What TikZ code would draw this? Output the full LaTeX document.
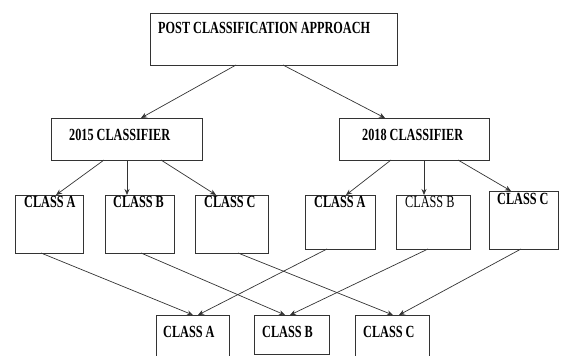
\documentclass[tikz,border=0pt]{standalone}
\usepackage{fontspec}
\setmainfont{Liberation Serif}[FakeStretch=0.72]
\usetikzlibrary{arrows.meta}
\begin{document}
\begin{tikzpicture}[x=1pt,y=-1pt,
  boxst/.style={draw=black!80,line width=0.8pt,inner sep=0pt,outer sep=0pt,anchor=north west},
  lbl/.style={anchor=base west,inner sep=0pt,font=\fontsize{17}{20}\selectfont\bfseries},
  lblr/.style={anchor=base west,inner sep=0pt,font=\fontsize{17}{20}\selectfont},
  arr/.style={draw=black!80,line width=0.7pt,-{Stealth[length=6pt,width=5pt]}}]
\useasboundingbox (0,0) rectangle (563,356);
\clip (0,0) rectangle (563,356);
% boxes
\node[boxst,minimum width=247pt,minimum height=52pt] (top) at (150,13) {};
\node[boxst,minimum width=151pt,minimum height=42pt] (c15) at (51,118) {};
\node[boxst,minimum width=150pt,minimum height=42pt] (c18) at (339,118) {};
\node[boxst,minimum width=68pt,minimum height=58pt] (a1) at (15,195) {};
\node[boxst,minimum width=69pt,minimum height=58pt] (b1) at (105,195) {};
\node[boxst,minimum width=73pt,minimum height=58pt] (cc1) at (195,195) {};
\node[boxst,minimum width=70pt,minimum height=54pt] (a2) at (305,195) {};
\node[boxst,minimum width=74pt,minimum height=54pt] (b2) at (396,195) {};
\node[boxst,minimum width=69pt,minimum height=58pt] (cc2) at (489,191) {};
\node[boxst,minimum width=73pt,minimum height=60pt] (fa) at (156,315) {};
\node[boxst,minimum width=75pt,minimum height=39pt] (fb) at (254,315) {};
\node[boxst,minimum width=74pt,minimum height=60pt] (fc) at (355,315) {};
% texts
\node[lbl] (ttop) at (158,34) {POST CLASSIFICATION APPROACH};
\node[lbl] (t15) at (69,140) {2015 CLASSIFIER};
\node[lbl] (t18) at (362,140) {2018 CLASSIFIER};
\node[lbl] (ta1) at (24,207) {CLASS A};
\node[lbl] (tb1) at (113,207) {CLASS B};
\node[lbl] (tc1) at (204,207) {CLASS C};
\node[lbl] (ta2) at (314,207) {CLASS A};
\node[lblr] (tb2) at (405,207) {CLASS B};
\node[lbl] (tc2) at (497,204) {CLASS C};
\node[lbl] (tfa) at (163,337) {CLASS A};
\node[lbl] (tfb) at (262,337) {CLASS B};
\node[lbl] (tfc) at (363,337) {CLASS C};
% arrows
\draw[arr] ([xshift=86pt]top.south west) -- ([xshift=90pt]c15.north west);
\draw[arr] ([xshift=133pt]top.south west) -- ([xshift=46pt]c18.north west);
\draw[arr] ([xshift=53pt]c15.south west) -- ([xshift=41pt]a1.north west);
\draw[arr] ([xshift=76pt]c15.south west) -- ([xshift=22pt]b1.north west);
\draw[arr] ([xshift=110pt]c15.south west) -- ([xshift=21pt]cc1.north west);
\draw[arr] ([xshift=52pt]c18.south west) -- ([xshift=41pt]a2.north west);
\draw[arr] ([xshift=85pt]c18.south west) -- ([xshift=28pt]b2.north west);
\draw[arr] ([xshift=119pt]c18.south west) -- ([xshift=22pt]cc2.north west);
\draw[arr] ([xshift=26pt]a1.south west) -- ([xshift=37pt]fa.north west);
\draw[arr] ([xshift=36pt]b1.south west) -- ([xshift=31pt]fb.north west);
\draw[arr] ([xshift=43pt]cc1.south west) -- ([xshift=38pt]fc.north west);
\draw[arr] ([xshift=22pt]a2.south west) -- ([xshift=42pt]fa.north west);
\draw[arr] ([xshift=32pt]b2.south west) -- ([xshift=36pt]fb.north west);
\draw[arr] ([xshift=32pt]cc2.south west) -- ([xshift=44pt]fc.north west);
\end{tikzpicture}
\end{document}
